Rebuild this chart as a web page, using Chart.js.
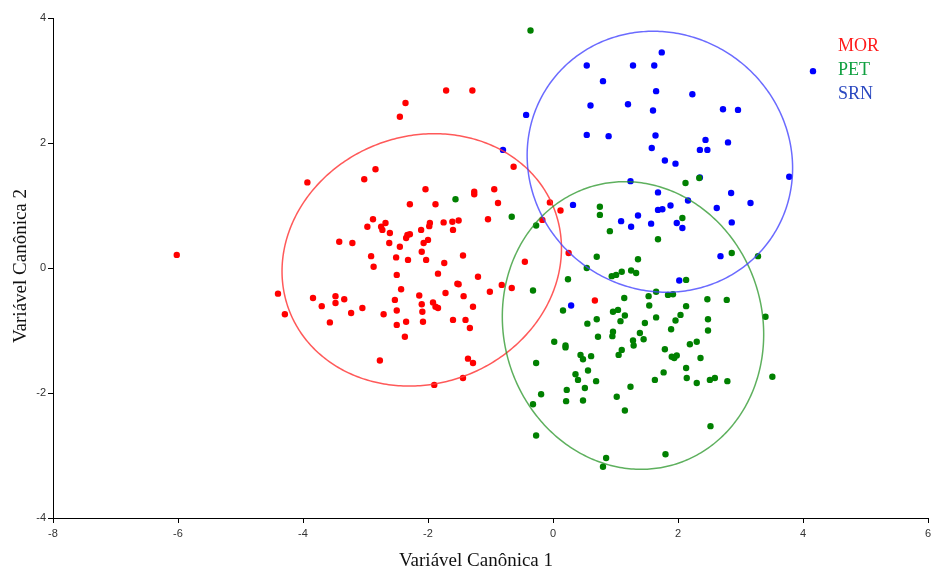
<!DOCTYPE html>
<html>
<head>
<meta charset="utf-8">
<script src="https://cdn.jsdelivr.net/npm/chart.js@4/dist/chart.umd.min.js"></script>
<style>
  html, body { margin: 0; padding: 0; background: #ffffff; }
  canvas { display: block; }
</style>
</head>
<body>
<canvas id="c" width="933" height="572"></canvas>
<script>
// ---- data ----
const groups = ["MOR", "PET", "SRN"];

const morX = [-6.02,-4.40,-4.29,-3.93,-2.45,-2.36,-1.71,-1.29,-2.84,-3.02,-2.04,-2.29,-1.88,-1.26,-1.26,-0.94,-0.88,-0.63,-1.04,-2.88,
  -2.97,-2.68,-2.75,-2.73,-2.61,-1.97,-1.98,-1.75,-1.61,-1.51,-1.60,-2.11,-2.29,-2.33,-2.35,-2.00,-2.07,-3.42,-3.21,-2.62,
  -2.45,-2.10,-2.91,-2.51,-2.32,-2.03,-1.44,-1.74,-2.87,-2.50,-1.84,-1.20,-0.45,-1.53,-1.51,-0.82,-0.66,-1.01,-1.72,-1.43,
  -2.43,-2.14,-2.53,-2.10,-1.92,-1.88,-1.84,-1.28,-3.84,-3.48,-3.34,-3.48,-3.70,-3.05,-3.23,-2.71,-2.50,-2.09,-3.57,-2.50,
  -2.35,-2.08,-1.60,-1.40,-1.33,-2.37,-2.77,-1.36,-1.28,-1.44,-1.90,-0.05,0.12,-0.17,0.25,0.67];
const morY = [0.21,-0.41,-0.74,1.37,2.42,2.64,2.84,2.84,1.58,1.42,1.26,1.02,1.02,1.22,1.18,1.26,1.04,1.62,0.78,0.78,
  0.66,0.72,0.66,0.61,0.56,0.72,0.67,0.73,0.74,0.76,0.61,0.61,0.54,0.53,0.48,0.45,0.40,0.42,0.40,0.40,
  0.34,0.26,0.19,0.17,0.13,0.13,0.20,0.08,0.02,-0.11,-0.09,-0.14,0.10,-0.25,-0.26,-0.27,-0.32,-0.38,-0.40,-0.45,
  -0.34,-0.44,-0.51,-0.58,-0.55,-0.62,-0.64,-0.62,-0.48,-0.45,-0.50,-0.56,-0.61,-0.64,-0.72,-0.74,-0.68,-0.70,-0.87,-0.91,
  -0.86,-0.86,-0.83,-0.83,-0.96,-1.10,-1.48,-1.45,-1.52,-1.76,-1.87,1.05,0.92,0.77,0.24,-0.52];

const petX = [-0.36,-1.56,-0.66,2.12,2.34,-0.27,0.75,0.75,2.07,0.91,1.68,2.86,3.28,0.70,1.36,0.54,0.24,-0.32,0.94,1.01,
  1.10,1.25,1.33,2.13,1.14,1.53,1.65,1.84,1.92,2.47,2.78,0.16,1.54,2.13,0.96,1.04,1.15,0.70,0.55,1.08,
  1.65,2.04,1.96,2.48,3.40,1.47,1.89,2.48,0.96,0.95,0.72,1.39,1.45,1.28,1.29,0.02,0.20,0.20,2.30,2.19,
  1.79,1.10,1.05,0.44,0.48,0.61,1.90,1.94,1.98,2.36,-0.27,2.13,0.56,0.36,1.77,0.40,0.69,1.63,2.14,2.30,
  2.51,2.59,2.79,3.51,1.24,0.51,0.22,-0.19,-0.32,0.21,0.48,1.02,1.15,2.52,-0.27,0.85,0.80,1.80];
const petY = [3.80,1.10,0.82,1.36,1.44,0.68,0.98,0.85,0.80,0.59,0.46,0.24,0.19,0.18,0.14,0.00,-0.18,-0.36,-0.13,-0.11,
  -0.06,-0.04,-0.08,-0.19,-0.48,-0.45,-0.38,-0.43,-0.42,-0.50,-0.51,-0.68,-0.60,-0.61,-0.70,-0.67,-0.76,-0.82,-0.89,-0.85,
  -0.79,-0.75,-0.84,-0.82,-0.78,-0.88,-0.98,-1.00,-1.02,-1.09,-1.10,-1.04,-1.14,-1.16,-1.24,-1.18,-1.24,-1.27,-1.18,-1.22,
  -1.30,-1.31,-1.39,-1.39,-1.46,-1.41,-1.42,-1.44,-1.40,-1.44,-1.52,-1.60,-1.64,-1.70,-1.67,-1.79,-1.81,-1.79,-1.76,-1.84,
  -1.79,-1.76,-1.81,-1.74,-1.90,-1.92,-1.95,-2.02,-2.18,-2.13,-2.12,-2.06,-2.28,-2.53,-2.68,-3.04,-3.18,-2.98];

const srnX = [1.74,0.54,1.28,1.62,0.80,1.65,2.23,0.60,1.20,1.60,2.72,2.96,0.54,0.89,1.64,1.58,2.44,2.35,2.47,2.80,
  1.79,1.96,2.35,-0.43,-0.80,1.24,1.68,2.16,1.88,1.68,1.75,1.36,0.32,2.85,2.62,1.09,4.16,3.78,3.16,2.07,
  2.86,2.68,1.25,1.57,1.98,2.02,0.29];
const srnY = [3.45,3.24,3.24,3.24,2.99,2.83,2.78,2.60,2.62,2.52,2.54,2.53,2.13,2.11,2.12,1.92,2.05,1.89,1.89,2.01,
  1.72,1.67,1.45,2.45,1.89,1.39,1.21,1.08,1.00,0.93,0.94,0.84,1.01,1.20,0.96,0.75,3.15,1.46,1.04,0.64,
  0.73,0.19,0.66,0.71,0.72,-0.20,-0.60];

// ellipse centre, semi-axes and angle (degrees), in data units
const ellCx = [-2.10, 1.28, 1.71];
const ellCy = [0.13, -0.92, 1.70];
const ellA = [2.27, 2.32, 2.16];
const ellB = [1.98, 2.07, 2.05];
const ellAng = [20.8, -73.6, -35.4];

// tick values and axis limits
const xTicks = [-8, -6, -4, -2, 0, 2, 4, 6];
const yTicks = [-4, -2, 0, 2, 4];

const xTitle = "Variável Canônica 1";
const yTitle = "Variável Canônica 2";

// ---- styles ----
const pointColors = ["#ff0000", "#008000", "#0000ff"];
const ellipseColors = ["rgba(255,60,60,0.85)", "rgba(40,150,40,0.75)", "rgba(70,70,255,0.8)"];
const legendColors = ["#ff1a1a", "#10a040", "#2a48c0"];

function pts(xs, ys) { return xs.map((x, i) => ({ x: x, y: ys[i] })); }

const ellipsePlugin = {
  id: 'ellipses',
  afterDatasetsDraw(chart) {
    const ctx = chart.ctx, xs = chart.scales.x, ys = chart.scales.y;
    ctx.save();
    const ca = chart.chartArea;
    ctx.beginPath();
    ctx.rect(ca.left, ca.top, ca.right - ca.left, ca.bottom - ca.top);
    ctx.clip();
    for (let g = 0; g < ellCx.length; g++) {
      const th = ellAng[g] * Math.PI / 180;
      ctx.beginPath();
      for (let k = 0; k <= 360; k++) {
        const t = k * Math.PI / 180;
        const dx = ellA[g] * Math.cos(th) * Math.cos(t) - ellB[g] * Math.sin(th) * Math.sin(t);
        const dy = ellA[g] * Math.sin(th) * Math.cos(t) + ellB[g] * Math.cos(th) * Math.sin(t);
        const px = xs.getPixelForValue(ellCx[g] + dx);
        const py = ys.getPixelForValue(ellCy[g] + dy);
        if (k === 0) ctx.moveTo(px, py); else ctx.lineTo(px, py);
      }
      ctx.closePath();
      ctx.strokeStyle = ellipseColors[g];
      ctx.lineWidth = 1.5;
      ctx.stroke();
    }
    ctx.restore();
  }
};

const textPlugin = {
  id: 'texts',
  afterDraw(chart) {
    const ctx = chart.ctx;
    ctx.save();
    ctx.font = '19px "Liberation Serif", "Times New Roman", serif';
    ctx.fillStyle = '#111';
    ctx.textAlign = 'center';
    ctx.textBaseline = 'middle';
    ctx.fillText(xTitle, 476, 561);
    ctx.translate(21, 266);
    ctx.rotate(-Math.PI / 2);
    ctx.fillText(yTitle, 0, 0);
    ctx.restore();

    ctx.save();
    ctx.font = '18px "Liberation Serif", "Times New Roman", serif';
    ctx.textAlign = 'left';
    ctx.textBaseline = 'middle';
    const ly = [46, 70, 94];
    for (let g = 0; g < groups.length; g++) {
      ctx.fillStyle = legendColors[g];
      ctx.fillText(groups[g], 838, ly[g]);
    }
    ctx.restore();
  }
};

const tickFont = { family: '"Liberation Sans Narrow", "Liberation Sans", Arial, sans-serif', size: 11 };

new Chart(document.getElementById('c'), {
  type: 'scatter',
  data: {
    datasets: [
      { label: groups[0], data: pts(morX, morY), backgroundColor: pointColors[0], borderWidth: 0, pointRadius: 3.2 },
      { label: groups[1], data: pts(petX, petY), backgroundColor: pointColors[1], borderWidth: 0, pointRadius: 3.2 },
      { label: groups[2], data: pts(srnX, srnY), backgroundColor: pointColors[2], borderWidth: 0, pointRadius: 3.2 }
    ]
  },
  options: {
    responsive: false,
    animation: false,
    devicePixelRatio: 1,
    layout: { padding: { top: 18, right: 5, left: 0, bottom: 0 } },
    plugins: { legend: { display: false }, tooltip: { enabled: false }, title: { display: false } },
    scales: {
      x: {
        type: 'linear', min: xTicks[0], max: xTicks[xTicks.length - 1],
        afterBuildTicks(s) { s.ticks = xTicks.map(v => ({ value: v })); },
        ticks: { font: tickFont, color: '#333', padding: 4, maxRotation: 0 },
        grid: { drawOnChartArea: false, drawTicks: true, tickLength: 5, color: '#000', lineWidth: 1 },
        border: { color: '#000', width: 1 },
        afterFit(s) { s.height = 54; s.paddingRight = 0; s.paddingLeft = 0; }
      },
      y: {
        type: 'linear', min: yTicks[0], max: yTicks[yTicks.length - 1],
        afterBuildTicks(s) { s.ticks = yTicks.map(v => ({ value: v })); },
        ticks: { font: tickFont, color: '#333', padding: 2 },
        grid: { drawOnChartArea: false, drawTicks: true, tickLength: 5, color: '#000', lineWidth: 1 },
        border: { color: '#000', width: 1 },
        afterFit(s) { s.width = 53; s.paddingTop = 0; s.paddingBottom = 0; }
      }
    }
  },
  plugins: [ellipsePlugin, textPlugin]
});
</script>
</body>
</html>
